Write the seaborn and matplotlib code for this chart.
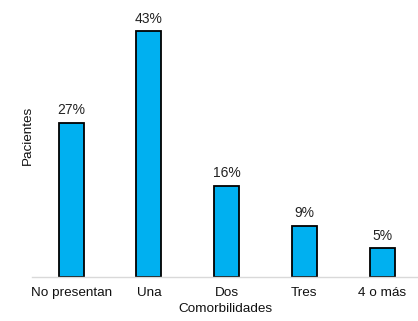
# Pacientes por número de comorbilidades

import pandas as pd
import matplotlib
matplotlib.use("Agg")
import matplotlib.pyplot as plt
import seaborn as sns

categorias = ["No presentan", "Una", "Dos", "Tres", "4 o más"]
porcentajes = [27, 43, 16, 9, 5]

df = pd.DataFrame({"cat": categorias, "pct": porcentajes})

sns.set_style("white")
plt.rcParams["font.family"] = ["Liberation Sans", "DejaVu Sans"]
plt.rcParams["font.size"] = 10

fig = plt.figure(figsize=(4.18, 3.21), dpi=100)
ax = fig.add_axes([0.077, 0.137, 0.923, 0.819])

sns.barplot(data=df, x="cat", y="pct", color="#00B0F0", saturation=1,
            width=0.32, edgecolor="black", linewidth=1.3, ax=ax)

for i, v in enumerate(porcentajes):
    ax.text(i, v + 1.0, f"{v}%", ha="center", va="bottom", fontsize=10, color="#222222")

ax.set_ylim(0, 46)
ax.set_xlim(-0.5, 4.46)
ax.set_yticks([])
ax.tick_params(axis="x", length=0, pad=7, labelsize=9.7, colors="#111111")
for s in ["top", "right", "left"]:
    ax.spines[s].set_visible(False)
ax.spines["bottom"].set_color("#D9D9D9")
ax.spines["bottom"].set_linewidth(1)

ax.set_xlabel("Comorbilidades", fontsize=9.7, color="#111111")
ax.xaxis.set_label_coords(0.5, -0.098)
ax.set_ylabel("Pacientes", fontsize=9.7, color="#111111")
ax.yaxis.set_label_coords(0.005, 0.54)

plt.savefig("out.png", dpi=100)
